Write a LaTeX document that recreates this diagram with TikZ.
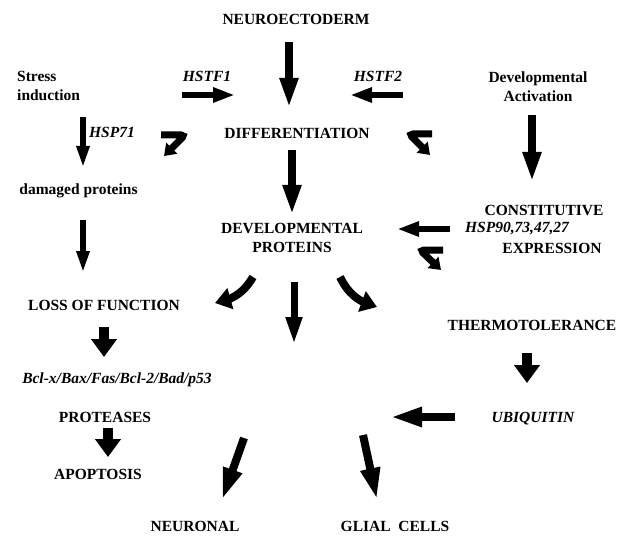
\documentclass[tikz,border=0pt]{standalone}
\usepackage{fontspec}
\setmainfont{Liberation Serif}
\usetikzlibrary{arrows.meta,bending,calc}

\begin{document}
\begin{tikzpicture}[x=1pt, y=-1pt,
  every node/.style = {font=\fontsize{15.5}{19}\selectfont\bfseries,
    inner sep=0pt, anchor=base},
  gene/.style = {font=\fontsize{15.5}{19}\selectfont\bfseries\itshape},
  bigarrow/.style = {line width=8pt, -{Triangle[width=17pt,length=30pt]}},
  midarrow/.style = {line width=7pt, -{Triangle[width=15pt,length=28pt]}},
  thinarrow/.style = {line width=5.5pt, -{Triangle[width=12pt,length=22pt]}},
  sidearrow/.style = {line width=6.5pt, -{Triangle[width=14pt,length=22pt]}},
  stubarrow/.style = {line width=10pt, -{Triangle[width=25pt,length=18pt]}},
  curvearrow/.style = {line width=8pt, -{Triangle[width=21pt,length=16pt]}},
  hookarrow/.style = {line width=7pt, rounded corners=4pt,
    -{Triangle[width=15pt,length=11pt]}},
  longarrow/.style = {line width=8pt, -{Triangle[width=18pt,length=32pt]}}]
  \useasboundingbox (0,0) rectangle (623,537);

  % left branch
  \node (stress) [anchor=west, align=left] at (17,86) {Stress\\induction};
  \node (hsp71) [gene] at (112,138) {HSP71};
  \node (damaged) at (78.5,195) {damaged proteins};
  \node (loss) at (104,310) {LOSS OF FUNCTION};
  \node (bcl) [gene] at (117,383) {Bcl-x/Bax/Fas/Bcl-2/Bad/p53};
  \node (prot) at (105,422) {PROTEASES};
  \node (apop) at (98,479) {APOPTOSIS};

  % centre
  \node (neuro) at (296,25) {NEUROECTODERM};
  \node (hstf1) [gene] at (207,82) {HSTF1};
  \node (hstf2) [gene] at (378,82) {HSTF2};
  \node (diff) at (297,139) {DIFFERENTIATION};
  \node (devprot) [anchor=center, align=center] at (292,237.5)
    {DEVELOPMENTAL\\PROTEINS};
  \node (neuronal) at (195,531) {NEURONAL};
  \node (glial) at (395,531) {GLIAL~~CELLS};

  % right branch
  \node (devact) [anchor=center, align=center] at (538,86.5)
    {Developmental\\Activation};
  \node (constit) at (544,215) {CONSTITUTIVE};
  \node (hsp90) [gene] at (517,233) {HSP90,73,47,27};
  \node (express) at (552,253) {EXPRESSION};
  \node (thermo) at (532,330) {THERMOTOLERANCE};
  \node (ubiq) [gene] at (533,422) {UBIQUITIN};

  % arrows
  \draw[bigarrow] ($(neuro.base)+(-7,17)$) -- ($(diff.base)+(-8,-31)$);
  \draw[sidearrow] (hstf1.base) ++(-25,13) -- ++(53,0);
  \draw[sidearrow] (hstf2.base) ++(25,13) -- ++(-53,0);
  \draw[bigarrow] ($(diff.base)+(-5,11)$) -- ($(devprot.center)+(0,-22.5)$);
  \draw[bigarrow] ($(devact.center)+(-6,28.5)$) -- ($(constit.base)+(-12,-33)$);
  \draw[sidearrow] ($(hsp90.base)+(-67,-4)$) -- ($(devprot.center)+(105,-8.5)$);

  \draw[thinarrow] ($(damaged.base)+(4.5,-78)$) -- ($(damaged.base)+(4.5,-27)$);
  \draw[thinarrow] ($(damaged.base)+(4.5,25)$) -- ($(loss.base)+(-21,-37)$);
  \draw[stubarrow] ($(loss.base)+(0,17)$) -- ($(bcl.base)+(-13,-26)$);
  \draw[stubarrow] ($(prot.base)+(3,6)$) -- ($(apop.base)+(10,-22)$);

  \draw[curvearrow] ($(devprot.center)+(-39,39.5)$) to[bend left=25]
    ($(loss.base)+(111,-7)$);
  \draw[midarrow] (devprot.center) ++(2,44.5) -- ++(0,63);
  \draw[curvearrow] ($(devprot.center)+(48,39.5)$) to[bend right=25]
    ($(thermo.base)+(-155,-23)$);

  \draw[stubarrow] ($(thermo.base)+(-5,23)$) -- ($(ubiq.base)+(-6,-39)$);
  \draw[longarrow] (ubiq.base) ++(-78,-5) -- ++(-65,0);
  \draw[longarrow] ($(neuronal.base)+(49,-93)$) -- ($(neuronal.base)+(27,-31)$);
  \draw[longarrow] ($(glial.base)+(-32,-96)$) -- ($(glial.base)+(-18,-31)$);

  % feedback hooks
  \draw[hookarrow] (hsp71.base) ++(49,-3) -- ++(24,0) -- ++(-21,21);
  \draw[hookarrow] (diff.base) ++(135,-5) -- ++(-23,0) -- ++(21,21);
  \draw[hookarrow] (express.base) ++(-109,-3) -- ++(-23,0) -- ++(21,20);
\end{tikzpicture}
\end{document}
